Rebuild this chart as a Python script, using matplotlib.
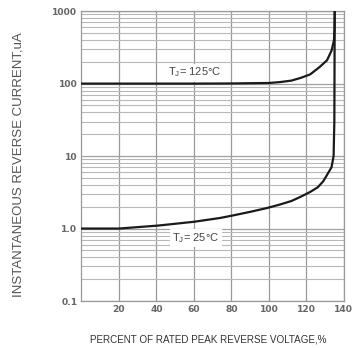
import matplotlib
matplotlib.use("Agg")
import matplotlib.pyplot as plt
from matplotlib.ticker import FixedLocator, NullFormatter, LogLocator

# Percent of rated peak reverse voltage
pct_125 = [0, 20, 40, 60, 80, 100, 106, 112, 117, 122, 127, 131, 133.4, 134.7, 135.0, 135.1]
cur_125 = [100, 100, 100, 100, 100.5, 102, 105, 110, 120, 134, 169, 210, 285, 395, 600, 1000]

pct_25 = [0, 20, 41, 60, 74, 81, 90, 99, 106, 112, 117, 122, 126, 129, 131, 133.4, 134.5, 134.9, 135.1]
cur_25 = [1.0, 1.0, 1.1, 1.24, 1.4, 1.52, 1.7, 1.92, 2.15, 2.4, 2.75, 3.2, 3.7, 4.5, 5.5, 7.0, 10, 30, 1000]

x_ticks = [20, 40, 60, 80, 100, 120, 140]
y_ticks = [0.1, 1.0, 10, 100, 1000]
y_tick_labels = ["0.1", "1.0", "10", "100", "1000"]

fig = plt.figure(figsize=(3.52, 3.48), dpi=100)
ax = fig.add_axes([0.2315, 0.135, 0.7455, 0.833])

ax.set_yscale("log")
ax.set_xlim(0, 140)
ax.set_ylim(0.1, 1000)

ax.xaxis.set_major_locator(FixedLocator(x_ticks))
ax.set_xticklabels([str(v) for v in x_ticks])
ax.yaxis.set_major_locator(FixedLocator(y_ticks))
ax.set_yticklabels(y_tick_labels)
ax.yaxis.set_minor_locator(LogLocator(base=10, subs=range(2, 10)))
ax.yaxis.set_minor_formatter(NullFormatter())

ax.tick_params(which="both", length=0)
ax.tick_params(axis="both", labelsize=6.6, colors="#666666", pad=3)
for lab in ax.get_xticklabels() + ax.get_yticklabels():
    lab.set_fontweight("bold")
    lab.set_family("DejaVu Sans")

ax.grid(True, which="major", axis="x", color="#999999", linewidth=0.9)
ax.grid(True, which="major", axis="y", color="#a0a0a0", linewidth=0.9)
ax.grid(True, which="minor", axis="y", color="#b8b8b8", linewidth=0.8)

for side in ["left", "bottom", "top", "right"]:
    ax.spines[side].set_color("#999999")
    ax.spines[side].set_linewidth(0.9)

ax.plot(pct_125, cur_125, color="#1a1a1a", linewidth=1.6, solid_capstyle="round", zorder=5)
ax.plot(pct_25, cur_25, color="#1a1a1a", linewidth=1.6, solid_capstyle="round", zorder=5)

box = dict(facecolor="white", edgecolor="none", pad=1.5)
ax.text(60.5, 142, "T$_\\mathregular{J}$= 125°C", fontsize=8, color="#444444",
        ha="center", va="center", bbox=box, zorder=4, family="Liberation Sans")
ax.text(61, 0.75, "T$_\\mathregular{J}$= 25°C", fontsize=8, color="#444444",
        ha="center", va="center", bbox=box, zorder=4, family="Liberation Sans")

fig.text(0.052, 0.526, "INSTANTANEOUS REVERSE CURRENT,uA", rotation=90,
         ha="center", va="center", fontsize=9.5, color="#555555", family="Liberation Sans")
fig.text(0.591, 0.023, "PERCENT OF RATED PEAK REVERSE VOLTAGE,%", ha="center", va="center",
         fontsize=7.1, color="#333333", family="Liberation Sans")

fig.savefig("out.png", dpi=100)
